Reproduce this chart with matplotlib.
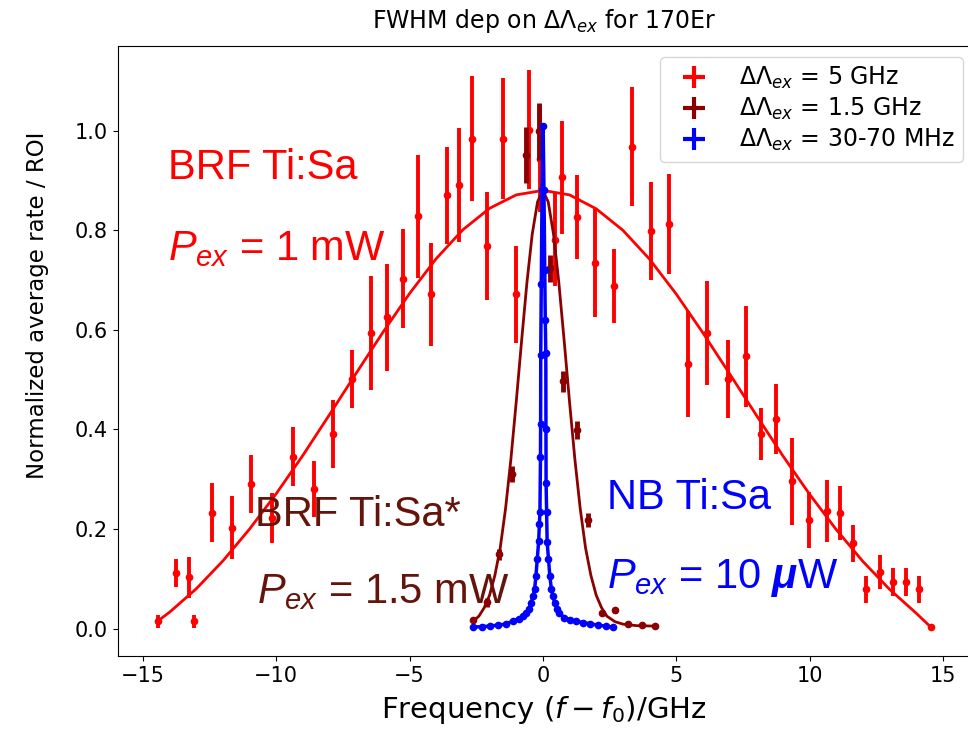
# FWHM vs excitation linewidth, 170Er
import numpy as np
import matplotlib.pyplot as plt
from matplotlib.lines import Line2D

# mathtext for the big annotations uses Liberation Sans (via math_fontfamily='custom')
plt.rcParams['mathtext.rm'] = 'Liberation Sans'
plt.rcParams['mathtext.it'] = 'Liberation Sans:italic'
plt.rcParams['mathtext.bf'] = 'Liberation Sans:bold'
plt.rcParams['mathtext.bfit'] = 'Liberation Sans:italic:bold'

# BRF Ti:Sa, 5 GHz linewidth
red_x = [-14.45, -13.76, -13.26, -13.08, -12.41, -11.67, -10.96, -10.17, -9.36, -8.58,
         -7.89, -7.15, -6.45, -5.84, -5.24, -4.67, -4.20, -3.61, -3.14, -2.64,
         -2.09, -1.51, -0.99, -0.51, -0.09, 0.47, 0.70, 1.29, 1.97, 2.68,
         3.33, 4.04, 4.74, 5.46, 6.14, 6.95, 7.61, 8.17, 8.76, 9.36,
         9.99, 10.64, 11.16, 11.64, 12.11, 12.64, 13.14, 13.61, 14.12, 14.55]
red_y = [0.015, 0.111, 0.103, 0.015, 0.233, 0.203, 0.291, 0.222, 0.345, 0.281,
         0.391, 0.501, 0.594, 0.625, 0.703, 0.828, 0.671, 0.870, 0.891, 0.984,
         0.768, 0.984, 0.671, 1.002, 0.943, 0.781, 0.906, 0.827, 0.734, 0.688,
         0.968, 0.798, 0.812, 0.531, 0.594, 0.501, 0.547, 0.391, 0.421, 0.296,
         0.218, 0.236, 0.232, 0.171, 0.079, 0.114, 0.094, 0.094, 0.079, 0.003]
red_err = [0.013, 0.028, 0.041, 0.013, 0.059, 0.063, 0.058, 0.050, 0.059, 0.056,
           0.069, 0.058, 0.115, 0.108, 0.100, 0.123, 0.104, 0.097, 0.115, 0.126,
           0.108, 0.122, 0.098, 0.120, 0.107, 0.093, 0.113, 0.084, 0.109, 0.074,
           0.120, 0.098, 0.100, 0.107, 0.105, 0.078, 0.101, 0.053, 0.071, 0.087,
           0.057, 0.063, 0.055, 0.038, 0.027, 0.034, 0.028, 0.028, 0.027, 0.0]
red_fit_x = [-14.45, -14, -13, -12, -11, -10, -9, -8, -7, -6, -5, -4, -3, -2, -1, 0,
             1, 2, 3, 4, 5, 6, 7, 8, 9, 10, 11, 12, 13, 14, 14.55]
red_fit_y = [0.015, 0.033, 0.080, 0.136, 0.200, 0.271, 0.348, 0.430, 0.513, 0.595,
             0.673, 0.743, 0.801, 0.844, 0.871, 0.880, 0.871, 0.843, 0.800, 0.742,
             0.672, 0.594, 0.512, 0.429, 0.347, 0.270, 0.199, 0.135, 0.079, 0.031, 0.003]

# BRF Ti:Sa*, 1.5 GHz linewidth
dred_x = [-2.61, -2.11, -1.63, -1.14, -0.64, -0.16, 0.26, 0.74, 1.28, 1.70,
          2.22, 2.72, 3.20, 3.70, 4.20]
dred_y = [0.017, 0.053, 0.149, 0.310, 0.951, 0.999, 0.724, 0.497, 0.398, 0.218,
          0.031, 0.037, 0.009, 0.008, 0.006]
dred_err = [0.004, 0.009, 0.011, 0.016, 0.057, 0.057, 0.027, 0.021, 0.018, 0.014,
            0.004, 0.005, 0.002, 0.002, 0.002]
dred_fit_x = [-2.61, -2.4, -2.2, -2.0, -1.8, -1.6, -1.4, -1.2, -1.0, -0.8, -0.6, -0.4,
              -0.2, 0.0, 0.2, 0.4, 0.6, 0.8, 1.0, 1.2, 1.4, 1.6, 1.8, 2.0, 2.2, 2.4,
              2.7, 3.0, 3.5, 4.2]
dred_fit_y = [0.015, 0.025, 0.042, 0.067, 0.107, 0.162, 0.241, 0.340, 0.455, 0.577,
              0.694, 0.792, 0.857, 0.880, 0.857, 0.792, 0.694, 0.577, 0.455, 0.340,
              0.241, 0.162, 0.107, 0.067, 0.042, 0.025, 0.014, 0.009, 0.006, 0.005]

# NB Ti:Sa, 30-70 MHz linewidth
blue_x = [-2.62, -2.3, -2.0, -1.7, -1.4, -1.13, -0.9, -0.75, -0.63, -0.52, -0.44,
          -0.37, -0.31, -0.26, -0.21, -0.16, -0.13, -0.11, -0.09, -0.085, -0.08,
          -0.06, -0.03, 0.01, 0.04, 0.07, 0.09, 0.11, 0.115, 0.12, 0.14, 0.16,
          0.21, 0.26, 0.32, 0.38, 0.44, 0.53, 0.62, 0.8, 1.0, 1.25, 1.5, 1.76,
          2.05, 2.35, 2.64]
blue_y = [0.003, 0.004, 0.005, 0.007, 0.009, 0.015, 0.020, 0.025, 0.031, 0.040, 0.052,
          0.065, 0.079, 0.106, 0.140, 0.175, 0.210, 0.235, 0.344, 0.411, 0.550,
          0.693, 0.880, 1.010, 0.880, 0.720, 0.620, 0.554, 0.400, 0.293, 0.235, 0.174,
          0.140, 0.106, 0.079, 0.065, 0.052, 0.040, 0.031, 0.022, 0.018, 0.015, 0.012,
          0.010, 0.007, 0.005, 0.003]

labels = [r'$\Delta\Lambda_{ex}$ = 5 GHz', r'$\Delta\Lambda_{ex}$ = 1.5 GHz',
          r'$\Delta\Lambda_{ex}$ = 30-70 MHz']
dark_text = '#64140a'

fig = plt.figure(figsize=(9.68, 7.31), dpi=100)
# right edge sits just past the figure border (the right spine is cut off)
ax = fig.add_axes([117.6 / 968, 75 / 731, (969.5 - 117.6) / 968, 610 / 731])

# Red: BRF Ti:Sa
ax.errorbar(red_x, red_y, yerr=red_err, fmt='.', color='red', ms=9,
            elinewidth=2.8, capsize=0, zorder=2)
ax.plot(red_fit_x, red_fit_y, '-', color='red', lw=2, zorder=2)

# Dark red: BRF Ti:Sa*
ax.errorbar(dred_x, dred_y, yerr=dred_err, fmt='.', color='darkred', ms=9,
            elinewidth=3.5, capsize=0, zorder=3)
ax.plot(dred_fit_x, dred_fit_y, '-', color='darkred', lw=2, zorder=3)

# Blue: NB Ti:Sa
ax.plot(blue_x, blue_y, '.-', color='blue', ms=9, lw=2.5, zorder=4)

# Annotations
big = dict(fontsize=30, family='Liberation Sans', math_fontfamily='custom')
ax.text(-14.06, 0.902, 'BRF Ti:Sa', color='red', **big)
ax.text(-14.06, 0.741, r'$P_{ex}$ = 1 mW', color='red', **big)
ax.text(-10.78, 0.207, 'BRF Ti:Sa*', color=dark_text, **big)
ax.text(-10.74, 0.051, r'$P_{ex}$ = 1.5 mW', color=dark_text, **big)
ax.text(2.39, 0.241, 'NB Ti:Sa', color='blue', **big)
ax.text(2.40, 0.081, r'$P_{ex}$ = 10 $\boldsymbol{\mu}$W', color='blue', **big)

ax.set_xlim(-15.95, 16.0)
ax.set_ylim(-0.055, 1.17)
ax.set_xticks([-15, -10, -5, 0, 5, 10, 15])
ax.set_yticks([0.0, 0.2, 0.4, 0.6, 0.8, 1.0])
ax.tick_params(labelsize=15)
ax.set_xlabel(r'Frequency $(f - f_0)$/GHz', fontsize=21, labelpad=6)
ax.set_ylabel('Normalized average rate / ROI', fontsize=16.5)
ax.yaxis.set_label_coords(-0.08, 0.575)
ax.set_title(r'FWHM dep on $\Delta\Lambda_{ex}$ for 170Er', fontsize=17, pad=13)

handles = [Line2D([], [], color=c, marker='+', ms=16, mew=3, ls='none')
           for c in ['red', 'darkred', 'blue']]
ax.legend(handles, labels, loc='upper right', bbox_to_anchor=(963 / 968, 1 - 57 / 731),
          bbox_transform=fig.transFigure, borderaxespad=0, fontsize=17,
          handlelength=2.2, labelspacing=0.2, borderpad=0.35)

fig.savefig('out.png', dpi=100)
